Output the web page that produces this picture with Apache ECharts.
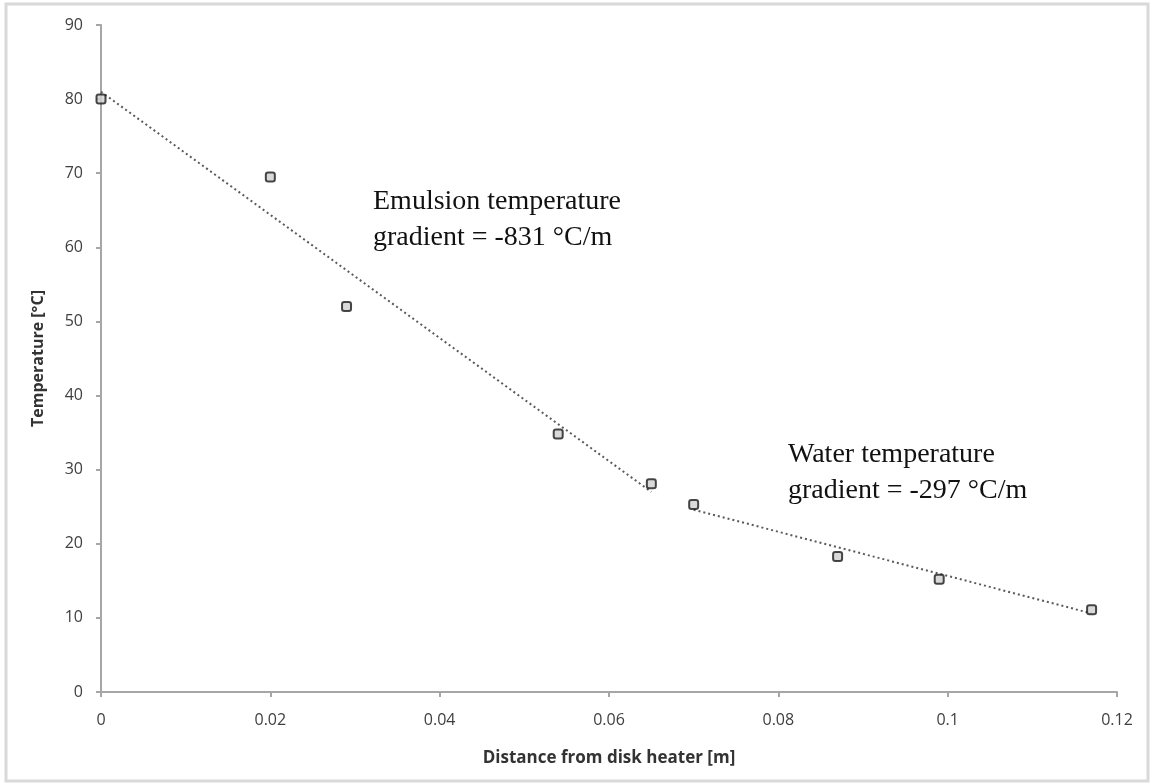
<!DOCTYPE html>
<html>
<head>
    <meta charset="utf-8" />
    <title>Temperature vs distance</title>
    <script src="https://cdn.jsdelivr.net/npm/echarts@6/dist/echarts.min.js"></script>
    <style>
        html, body { margin: 0; padding: 0; background: #fff; }
        #container { width: 1153px; height: 784px; }
    </style>
</head>
<body>
    <div id="container"></div>
</body>
</html>
<script>
    // measured points
    var distance = [0, 0.02, 0.029, 0.054, 0.065, 0.07, 0.087, 0.099, 0.117];
    var temperature = [80, 69.5, 52, 34.8, 28.1, 25.3, 18.3, 15.2, 11.1];

    // linear fits (end points)
    var emulsionFitX = [0, 0.065];
    var emulsionFitY = [81.0, 27.0];
    var waterFitX = [0.07, 0.117];
    var waterFitY = [24.6, 10.6];

    var xTicks = [0, 0.02, 0.04, 0.06, 0.08, 0.1, 0.12];
    var yTicks = [0, 10, 20, 30, 40, 50, 60, 70, 80, 90];

    var emulsionLabel = ['Emulsion temperature', 'gradient = -831 °C/m'];
    var waterLabel = ['Water temperature', 'gradient = -297 °C/m'];

    function pairs(xs, ys) {
        return xs.map(function (x, i) { return [x, ys[i]]; });
    }

    var dom = document.getElementById('container');
    var myChart = echarts.init(dom, null, { renderer: 'canvas' });

    var axisText = { color: '#404040', fontSize: 16, fontFamily: 'Open Sans' };
    var serifText = { fill: '#111', fontSize: 28, fontFamily: 'Liberation Serif', lineHeight: 36 };

    var option = {
        backgroundColor: '#fff',
        animation: false,
        grid: { left: 101, right: 36, top: 25, bottom: 92 },
        xAxis: {
            type: 'value',
            min: xTicks[0],
            max: xTicks[xTicks.length - 1],
            interval: 0.02,
            name: 'Distance from disk heater [m]',
            nameLocation: 'middle',
            nameGap: 58,
            nameTextStyle: { color: '#333', fontSize: 17, fontWeight: 'bold', fontFamily: 'Open Sans' },
            axisLine: { lineStyle: { color: '#a6a6a6', width: 2 } },
            axisTick: { show: true, length: 5, lineStyle: { color: '#a6a6a6', width: 2 } },
            axisLabel: Object.assign({ margin: 20, formatter: function (v) { return String(+v.toFixed(2)); } }, axisText),
            splitLine: { show: false }
        },
        yAxis: {
            type: 'value',
            min: yTicks[0],
            max: yTicks[yTicks.length - 1],
            interval: 10,
            name: 'Temperature [°C]',
            nameLocation: 'middle',
            nameGap: 55,
            nameRotate: 90,
            nameTextStyle: { color: '#333', fontSize: 16, fontWeight: 'bold', fontFamily: 'Open Sans' },
            axisLine: { show: true, lineStyle: { color: '#a6a6a6', width: 2 } },
            axisTick: { show: true, length: 5, lineStyle: { color: '#a6a6a6', width: 2 } },
            axisLabel: Object.assign({ margin: 18 }, axisText),
            splitLine: { show: false }
        },
        graphic: [
            {
                type: 'rect',
                shape: { x: 6, y: 4, width: 1142, height: 777 },
                style: { fill: 'none', stroke: '#d9d9d9', lineWidth: 3 },
                silent: true
            },
            {
                type: 'text', left: 373, top: 184,
                style: Object.assign({ text: emulsionLabel.join('\n') }, serifText)
            },
            {
                type: 'text', left: 788, top: 437,
                style: Object.assign({ text: waterLabel.join('\n') }, serifText)
            }
        ],
        series: [
            {
                name: 'Emulsion fit',
                type: 'line',
                data: pairs(emulsionFitX, emulsionFitY),
                showSymbol: false,
                lineStyle: { color: '#5a5a5a', width: 2, type: [2, 3] },
                z: 2
            },
            {
                name: 'Water fit',
                type: 'line',
                data: pairs(waterFitX, waterFitY),
                showSymbol: false,
                lineStyle: { color: '#5a5a5a', width: 2, type: [2, 3] },
                z: 2
            },
            {
                name: 'Temperature',
                type: 'scatter',
                data: pairs(distance, temperature),
                symbol: 'roundRect',
                symbolSize: 9,
                itemStyle: { color: '#cfcfcf', borderColor: '#1a1a1a', borderWidth: 2 },
                z: 3
            }
        ]
    };

    myChart.setOption(option);
</script>
